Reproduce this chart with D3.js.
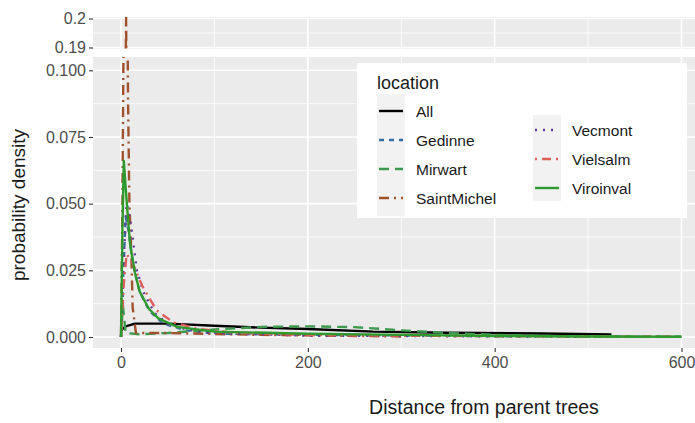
<!DOCTYPE html>
<html><head><meta charset="utf-8">
<script src="https://cdn.jsdelivr.net/npm/d3@7"></script>
<style>body{margin:0;background:#fff}svg{display:block;font-family:"Liberation Sans",Arial,sans-serif}</style>
</head><body><svg id="c" width="695" height="423"></svg>
<script>
// ---- data ----
const locations = ["All","Gedinne","Mirwart","SaintMichel","Vecmont","Vielsalm","Viroinval"];
const colors = ["#000000","#3A6E9A","#3E9A4E","#A0522D","#5E3C99","#DD5F5A","#2E9A2E"];
const dashes = ["none","5,5","10,6","10,5,2,5","2,6","2,5,9,5","none"];
const xTicks = [0,200,400,600];
const xMinor = [100,300,500];
const yTicksLow = [0,0.025,0.05,0.075,0.1];
const yTickLabelsLow = ["0.000","0.025","0.050","0.075","0.100"];
const yMinorLow = [0.0125,0.0375,0.0625,0.0875];
const yTicksTop = [0.19,0.2];
const yTickLabelsTop = ["0.19","0.2"];
const yMinorTop = [0.195];

const distAll = [0,5,15,50,100,150,200,270,350,450,525];
const densAll = [0.0025,0.004,0.005,0.005,0.0042,0.0035,0.003,0.002,0.0016,0.0013,0.001];
const distGedinne = [0,2,5,8,13,20,30,45,70,100,200,300,400,500,600];
const densGedinne = [0,0.02,0.045,0.04,0.027,0.017,0.01,0.005,0.0025,0.0013,0.0008,0.0006,0.0003,0.0002,0.0001];
const distMirwart = [0,2,5,20,50,100,150,200,250,300,350,400,450,500,600];
const densMirwart = [0,0.012,0.0015,0.001,0.0015,0.0028,0.0038,0.004,0.0037,0.0025,0.0015,0.0008,0.0004,0.0002,0.0001];
const distSaintMichel = [0,1.5,2.5,5.5,7.5,9,11,12.5,16,50,90,150,250,300];
const densSaintMichel = [0,0.05,0.1,0.2003,0.09,0.05,0.032,0.011,0.0015,0.0015,0.0012,0.0008,0.0004,0.0002];
const distVecmont = [0,3,6,10,17,25,36,50,70,100,200,300,400,500];
const densVecmont = [0,0.03,0.05,0.044,0.025,0.016,0.009,0.005,0.0028,0.0015,0.0005,0.0004,0.0002,0.0001];
const distVielsalm = [0,3,6,12,23,38,56,80,120,200,300,400,500,595];
const densVielsalm = [0,0.02,0.031,0.028,0.019,0.01,0.0055,0.0032,0.0016,0.0008,0.0005,0.0003,0.0002,0.0001];
const distViroinval = [0,1.5,3,5,8,10,15,20,30,40,60,100,200,300,400,500,600];
const densViroinval = [0,0.04,0.066,0.056,0.042,0.034,0.024,0.017,0.0105,0.007,0.0038,0.002,0.0012,0.0008,0.0004,0.0002,0.0001];

const series = [
  {name:"All", x:distAll, y:densAll},
  {name:"Gedinne", x:distGedinne, y:densGedinne},
  {name:"Mirwart", x:distMirwart, y:densMirwart},
  {name:"SaintMichel", x:distSaintMichel, y:densSaintMichel},
  {name:"Vecmont", x:distVecmont, y:densVecmont},
  {name:"Vielsalm", x:distVielsalm, y:densVielsalm},
  {name:"Viroinval", x:distViroinval, y:densViroinval}
];

// ---- layout ----
const svg = d3.select("#c");
const pL = 93, pR = 695;
const x = d3.scaleLinear().domain([0,600]).range([121,681.5]);
const panels = [
  {top:17, bottom:49, y:d3.scaleLinear().domain([0.19,0.2]).range([47.5,18.5]), ticks:yTicksTop, labels:yTickLabelsTop, minor:yMinorTop, id:"top"},
  {top:57, bottom:348, y:d3.scaleLinear().domain([0,0.1]).range([337,70.3]), ticks:yTicksLow, labels:yTickLabelsLow, minor:yMinorLow, id:"low"}
];

const defs = svg.append("defs");
panels.forEach(p=>{
  defs.append("clipPath").attr("id","clip-"+p.id).append("rect")
    .attr("x",pL).attr("y",p.top).attr("width",pR-pL).attr("height",p.bottom-p.top);
  const g = svg.append("g");
  g.append("rect").attr("x",pL).attr("y",p.top).attr("width",pR-pL).attr("height",p.bottom-p.top).attr("fill","#EBEBEB");
  const gg = g.append("g").attr("clip-path","url(#clip-"+p.id+")");
  p.minor.forEach(v=>gg.append("line").attr("x1",pL).attr("x2",pR).attr("y1",p.y(v)).attr("y2",p.y(v)).attr("stroke","#fff").attr("stroke-width",0.8));
  xMinor.forEach(v=>gg.append("line").attr("x1",x(v)).attr("x2",x(v)).attr("y1",p.top).attr("y2",p.bottom).attr("stroke","#fff").attr("stroke-width",0.8));
  p.ticks.forEach(v=>gg.append("line").attr("x1",pL).attr("x2",pR).attr("y1",p.y(v)).attr("y2",p.y(v)).attr("stroke","#fff").attr("stroke-width",1.6));
  xTicks.forEach(v=>gg.append("line").attr("x1",x(v)).attr("x2",x(v)).attr("y1",p.top).attr("y2",p.bottom).attr("stroke","#fff").attr("stroke-width",1.6));
  const line = d3.line().x(d=>x(d[0])).y(d=>p.y(d[1]));
  series.forEach((s,i)=>{
    gg.append("path").datum(s.x.map((v,j)=>[v,s.y[j]])).attr("d",line)
      .attr("fill","none").attr("stroke",colors[i]).attr("stroke-width",2.4)
      .attr("stroke-dasharray",dashes[i]==="none"?null:dashes[i]).attr("stroke-linejoin","round");
  });
  // y axis
  const ax = d3.axisLeft(p.y).tickValues(p.ticks).tickFormat((d,i)=>p.labels[i]).tickSize(4).tickPadding(3);
  const a = svg.append("g").attr("transform",`translate(${pL},0)`).call(ax);
  a.select(".domain").remove();
  a.selectAll("line").attr("stroke","#333").attr("stroke-width",1.1);
  a.selectAll("text").attr("fill","#4D4D4D").style("font-size","16px").style("font-family","Liberation Sans, Arial, sans-serif");
});

// x axis
const xa = svg.append("g").attr("transform","translate(0,348)").call(d3.axisBottom(x).tickValues(xTicks).tickSize(4).tickPadding(5));
xa.select(".domain").remove();
xa.selectAll("line").attr("stroke","#333").attr("stroke-width",1.1);
xa.selectAll("text").attr("fill","#4D4D4D").style("font-size","16px").style("font-family","Liberation Sans, Arial, sans-serif");

// titles
svg.append("text").attr("x",484).attr("y",414).attr("text-anchor","middle").attr("fill","#1A1A1A").style("font-size","19.5px").text("Distance from parent trees");
svg.append("text").attr("transform","translate(25,205) rotate(-90)").attr("text-anchor","middle").attr("fill","#1A1A1A").style("font-size","19px").text("probability density");

// legend
const lg = svg.append("g");
lg.append("rect").attr("x",357).attr("y",63).attr("width",330).attr("height",155).attr("fill","#fff");
lg.append("text").attr("x",377).attr("y",89).attr("fill","#1A1A1A").style("font-size","18px").text("location");
const cols = [
  {kx:377, ky0:94, ky1:216, lx:416, rows:[0,1,2,3], y0:111},
  {kx:533, ky0:115, ky1:201, lx:572, rows:[4,5,6], y0:130}
];
cols.forEach(c=>{
  lg.append("rect").attr("x",c.kx).attr("y",c.ky0).attr("width",28).attr("height",c.ky1-c.ky0).attr("fill","#F2F2F2");
  c.rows.forEach((idx,k)=>{
    const yy = c.y0 + k*29;
    lg.append("line").attr("x1",c.kx+2).attr("x2",c.kx+26).attr("y1",yy).attr("y2",yy)
      .attr("stroke",colors[idx]).attr("stroke-width",2.4).attr("stroke-dasharray",dashes[idx]==="none"?null:dashes[idx]);
    lg.append("text").attr("x",c.lx).attr("y",yy+5.5).attr("fill","#1A1A1A").style("font-size","15.5px").text(locations[idx]);
  });
});
</script></body></html>
